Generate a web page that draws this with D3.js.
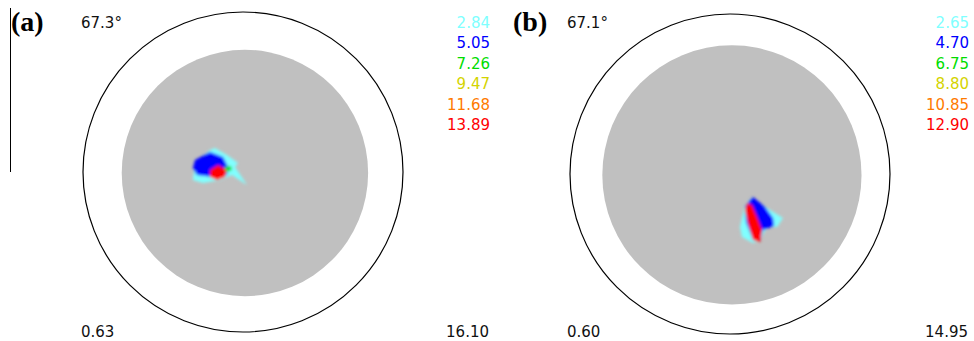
<!DOCTYPE html>
<html>
<head>
<meta charset="utf-8">
<script src="https://cdn.jsdelivr.net/npm/d3@7/dist/d3.min.js"></script>
<style>
  html, body { margin: 0; padding: 0; background: #fff; }
  svg { display: block; }
  .num { font-family: "DejaVu Sans", Verdana, sans-serif; font-size: 15px; }
  .tag { font-family: "Liberation Serif", "Times New Roman", serif; font-size: 28px; font-weight: bold; }
</style>
</head>
<body>
<div id="chart"></div>
<script>
// panel labels and header values
const panelTags = ["(a)", "(b)"];
const maxTiltLabels = ["67.3°", "67.1°"];
const minIntensity = ["0.63", "0.60"];
const maxIntensity = ["16.10", "14.95"];

// contour levels (legend) for each panel
const levelsA = [2.84, 5.05, 7.26, 9.47, 11.68, 13.89];
const levelsB = [2.65, 4.70, 6.75, 8.80, 10.85, 12.90];
const levelColors = ["#80ffff", "#0000ff", "#00dd00", "#d4d400", "#ff7a00", "#ff0000"];

// radius of the measured area, in projection units (outer circle = 1)
const measuredRadius = [0.77, 0.81];
const measuredOffset = [[0.012, -0.006], [0.012, -0.006]];

// contour polygons: [level index, [[x, y], ...]] in projection units, y up
const contoursA = [
  [0, [[-0.300, 0.056], [-0.206, 0.138], [-0.175, 0.150], [-0.100, 0.106], [-0.031, 0.056], [-0.050, 0.031],
       [0.025, -0.081], [-0.069, -0.019], [-0.144, -0.050], [-0.250, -0.069], [-0.313, -0.050]]],
  [1, [[-0.300, 0.075], [-0.206, 0.125], [-0.125, 0.094], [-0.094, 0.031], [-0.100, -0.019], [-0.188, -0.031],
       [-0.288, -0.019], [-0.313, 0.025]]],
  [5, [[-0.206, 0.013], [-0.156, 0.044], [-0.100, 0.013], [-0.113, -0.031], [-0.163, -0.050], [-0.206, -0.031]]],
  [2, [[-0.113, 0.031], [-0.075, 0.038], [-0.069, 0.013], [-0.106, 0.000]]]
];
const contoursB = [
  [0, [[0.1375, -0.150], [0.250, -0.225], [0.331, -0.275], [0.294, -0.331], [0.231, -0.331], [0.1875, -0.4125],
       [0.144, -0.431], [0.075, -0.394], [0.0625, -0.331], [0.094, -0.194]]],
  [1, [[0.144, -0.144], [0.219, -0.206], [0.269, -0.275], [0.275, -0.325], [0.206, -0.350], [0.1875, -0.419],
       [0.144, -0.4125], [0.100, -0.300], [0.094, -0.200]]],
  [5, [[0.106, -0.181], [0.1375, -0.194], [0.169, -0.269], [0.200, -0.350], [0.1875, -0.425], [0.144, -0.4125],
       [0.1125, -0.306], [0.094, -0.225]]]
];

const width = 974;
const height = 341;
const R = 160;

const svg = d3.select("#chart").append("svg").attr("width", width).attr("height", height);

const defs = svg.append("defs");
defs.append("filter")
  .attr("id", "soft")
  .attr("x", "-50%").attr("y", "-50%").attr("width", "200%").attr("height", "200%")
  .append("feGaussianBlur")
  .attr("stdDeviation", 1.4);

// stray vertical rule at the left edge
svg.append("line")
  .attr("x1", 10.5).attr("x2", 10.5)
  .attr("y1", 8).attr("y2", 172)
  .attr("stroke", "#000").attr("stroke-width", 1);

const panels = [
  { cx: 243, cy: 172, levels: levelsA, contours: contoursA, tagX: 11, labelX: 81, rightX: 489 },
  { cx: 730, cy: 174, levels: levelsB, contours: contoursB, tagX: 513, labelX: 567, rightX: 968 }
];

panels.forEach((p, i) => {
  const x = d3.scaleLinear().domain([-1, 1]).range([p.cx - R, p.cx + R]);
  const y = d3.scaleLinear().domain([-1, 1]).range([p.cy + R, p.cy - R]);
  const g = svg.append("g");

  // outer projection circle
  g.append("circle")
    .attr("cx", x(0)).attr("cy", y(0))
    .attr("r", x(1) - x(0))
    .attr("fill", "none")
    .attr("stroke", "#000")
    .attr("stroke-width", 1.2);

  // measured (grey) area
  g.append("circle")
    .attr("cx", x(measuredOffset[i][0])).attr("cy", y(measuredOffset[i][1]))
    .attr("r", x(measuredRadius[i]) - x(0))
    .attr("fill", "#c0c0c0");

  const line = d3.line()
    .x((d) => x(d[0]))
    .y((d) => y(d[1]))
    .curve(d3.curveLinearClosed);

  g.append("g")
    .attr("filter", "url(#soft)")
    .selectAll("path")
    .data(p.contours)
    .join("path")
    .attr("d", (d) => line(d[1]))
    .attr("fill", (d) => levelColors[d[0]]);

  // panel tag
  svg.append("text")
    .attr("class", "tag")
    .attr("x", p.tagX).attr("y", 31)
    .text(panelTags[i]);

  svg.append("text")
    .attr("class", "num")
    .attr("x", p.labelX).attr("y", 28)
    .attr("fill", "#111")
    .text(maxTiltLabels[i]);

  // level legend
  const ly = d3.scaleLinear().domain([0, 1]).range([28, 48.4]);
  svg.append("g")
    .selectAll("text")
    .data(p.levels)
    .join("text")
    .attr("class", "num")
    .attr("x", p.rightX + 1)
    .attr("y", (d, k) => ly(k))
    .attr("text-anchor", "end")
    .attr("fill", (d, k) => levelColors[k])
    .text((d) => d.toFixed(2));

  svg.append("text")
    .attr("class", "num")
    .attr("x", p.labelX).attr("y", 337)
    .attr("fill", "#111")
    .text(minIntensity[i]);

  svg.append("text")
    .attr("class", "num")
    .attr("x", p.rightX).attr("y", 337)
    .attr("text-anchor", "end")
    .attr("fill", "#111")
    .text(maxIntensity[i]);
});
</script>
</body>
</html>
